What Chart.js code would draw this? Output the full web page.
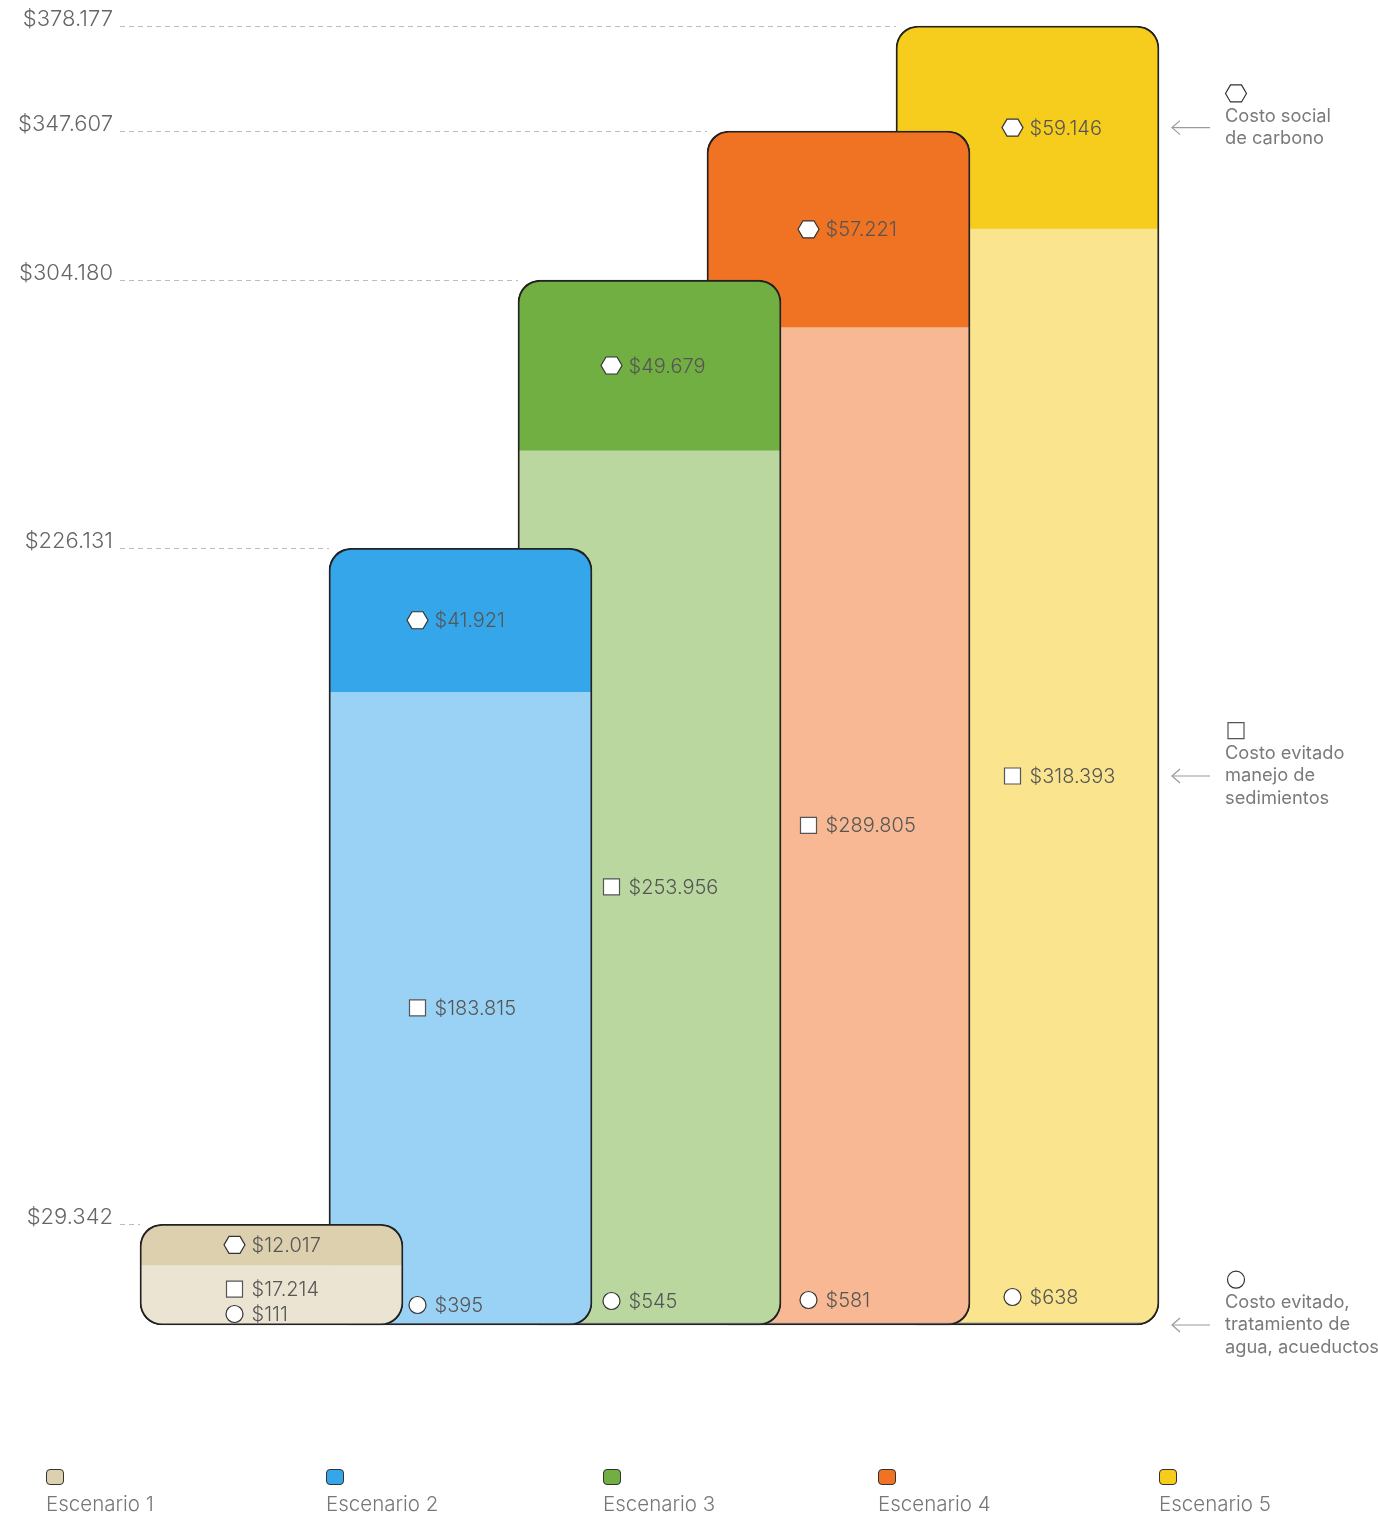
<!DOCTYPE html>
<html>
<head>
<meta charset="utf-8">
<script src="https://cdn.jsdelivr.net/npm/chart.js@4.4.1/dist/chart.umd.min.js"></script>
<style>
html,body{margin:0;padding:0;background:#fff;}
#wrap{position:relative;width:1378px;height:1518px;overflow:hidden;}
#c{position:absolute;left:0;top:0;}
.leg{position:absolute;top:1469px;font-family:Inter,"Noto Sans",sans-serif;font-weight:300;font-size:20.5px;color:#777;}
.sw{width:16px;height:14px;border:1px solid #333;border-radius:4px;}
.lt{margin-top:7px;line-height:24px;white-space:nowrap;}
</style>
</head>
<body>
<div id="wrap">
<canvas id="c" width="1378" height="1518"></canvas>
</div>
<script>
// ---- data ----
const scenarios = ['Escenario 1','Escenario 2','Escenario 3','Escenario 4','Escenario 5'];
const water    = [111, 395, 545, 581, 638];
const sediment = [17214, 183815, 253956, 289805, 318393];
const carbon   = [12017, 41921, 49679, 57221, 59146];
const tickLabels = ['$29.342','$226.131','$304.180','$347.607','$378.177'];
const noteCarbon = ['Costo social','de carbono'];
const noteSediment = ['Costo evitado','manejo de','sedimientos'];
const noteWater = ['Costo evitado,','tratamiento de','agua, acueductos'];

// ---- style ----
const darkColors  = ['#DDD0AE','#36A6EA','#72AF42','#F07324','#F6CC1D'];
const lightColors = ['#ECE4D2','#9AD2F5','#BAD7A0','#F8B893','#FAE48E'];
const waterColor = '#9A9B9D';
const labelDx = [-37, -43, -38, -30, -15];   // icon offset from bar centre
const sedShift = [-6, 0, 0, 0, 0];
const waterLift = [11, 20, 24, 25, 28];
const legendX = [46, 326, 603, 878, 1159];
const FONT = 'Inter, "Noto Sans", sans-serif';

const totals = scenarios.map((_, i) => water[i] + sediment[i] + carbon[i]);
const tickValues = totals.slice().sort((a, b) => a - b);

function fmt(v){ return '$' + String(v).replace(/\B(?=(\d{3})+(?!\d))/g, '.'); }

const datasets = [];
scenarios.forEach((name, i) => {
  const only = v => scenarios.map((_, j) => j === i ? v : null);
  const common = {stack:'s', grouped:false, barThickness:263, borderWidth:0, kind:'seg', scen:i, clip:false};
  datasets.push(Object.assign({label:name+' agua', data:only(water[i]), backgroundColor:waterColor, order:10*i+1}, common));
  datasets.push(Object.assign({label:name+' sedimentos', data:only(sediment[i]), backgroundColor:lightColors[i], order:10*i+2}, common));
  datasets.push(Object.assign({label:name+' carbono', data:only(carbon[i]), backgroundColor:darkColors[i], order:10*i+3}, common));
  datasets.push({label:name, data:only(totals[i]), backgroundColor:'rgba(0,0,0,0)', borderColor:'#222', borderWidth:1.2,
    borderRadius:22, borderSkipped:false, stack:'o', grouped:false, barThickness:263, order:10*i, kind:'outline', scen:i, clip:false});
});

function rr(ctx, x, y, w, h, r){
  r = Math.min(r, w/2, h/2);
  ctx.beginPath();
  ctx.moveTo(x + r, y);
  ctx.lineTo(x + w - r, y);
  ctx.arcTo(x + w, y, x + w, y + r, r);
  ctx.lineTo(x + w, y + h - r);
  ctx.arcTo(x + w, y + h, x + w - r, y + h, r);
  ctx.lineTo(x + r, y + h);
  ctx.arcTo(x, y + h, x, y + h - r, r);
  ctx.lineTo(x, y + r);
  ctx.arcTo(x, y, x + r, y, r);
  ctx.closePath();
}
function hexIcon(ctx, cx, cy){
  ctx.beginPath();
  ctx.moveTo(cx-10.5, cy); ctx.lineTo(cx-5.5, cy-8.5); ctx.lineTo(cx+5.5, cy-8.5);
  ctx.lineTo(cx+10.5, cy); ctx.lineTo(cx+5.5, cy+8.5); ctx.lineTo(cx-5.5, cy+8.5); ctx.closePath();
  ctx.fillStyle = '#fff'; ctx.fill(); ctx.strokeStyle = '#333'; ctx.lineWidth = 1.2; ctx.stroke();
}
function sqIcon(ctx, cx, cy){
  ctx.beginPath(); ctx.rect(cx-8, cy-8, 16, 16);
  ctx.fillStyle = '#fff'; ctx.fill(); ctx.strokeStyle = '#555'; ctx.lineWidth = 1.2; ctx.stroke();
}
function circIcon(ctx, cx, cy){
  ctx.beginPath(); ctx.arc(cx, cy, 8.5, 0, Math.PI*2);
  ctx.fillStyle = '#fff'; ctx.fill(); ctx.strokeStyle = '#333'; ctx.lineWidth = 1.2; ctx.stroke();
}
function elProps(chart, dsIndex, i){
  return chart.getDatasetMeta(dsIndex).data[i].getProps(['x','y','base','width'], true);
}

const custom = {
  id:'custom',
  beforeDatasetsDraw(chart){
    const ctx = chart.ctx;
    ctx.save();
    ctx.strokeStyle = '#bdbdbd'; ctx.lineWidth = 1; ctx.setLineDash([5,4]);
    scenarios.forEach((_, i) => {
      const p = elProps(chart, i*4+3, i);
      const y = Math.round(p.y) + 0.5;
      ctx.beginPath(); ctx.moveTo(120, y); ctx.lineTo(p.x - p.width/2, y); ctx.stroke();
    });
    ctx.restore();
  },
  beforeDatasetDraw(chart, args){
    const ds = chart.data.datasets[args.index];
    if (ds.kind !== 'seg') return;
    const p = elProps(chart, ds.scen*4+3, ds.scen);
    const ctx = chart.ctx;
    ctx.save();
    rr(ctx, p.x - p.width/2, p.y, p.width, p.base - p.y, 22);
    ctx.clip();
  },
  afterDatasetDraw(chart, args){
    const ds = chart.data.datasets[args.index];
    if (ds.kind !== 'seg') return;
    chart.ctx.restore();
  },
  afterDatasetsDraw(chart){
    const ctx = chart.ctx;
    ctx.save();
    ctx.textBaseline = 'middle';
    ctx.textAlign = 'left';
    ctx.font = '300 20px ' + FONT;
    let arrowC = 0, arrowS = 0, arrowW = 0;
    scenarios.forEach((_, i) => {
      const c = elProps(chart, i*4+2, i);
      const s = elProps(chart, i*4+1, i);
      const w = elProps(chart, i*4, i);
      const ix = c.x + labelDx[i];
      const yc = (c.y + c.base)/2;
      const ys = (s.y + s.base)/2 + sedShift[i];
      const yw = w.base - waterLift[i];
      hexIcon(ctx, ix, yc);
      sqIcon(ctx, ix, ys);
      circIcon(ctx, ix, yw);
      ctx.fillStyle = '#555';
      ctx.fillText(fmt(carbon[i]), ix + 17, yc + 1);
      ctx.fillText(fmt(sediment[i]), ix + 17, ys + 1);
      ctx.fillText(fmt(water[i]), ix + 17, yw + 1);
      if (i === scenarios.length - 1){ arrowC = yc; arrowS = ys; arrowW = w.base; }
    });
    // right-side notes
    const notes = [[noteCarbon, arrowC, hexIcon], [noteSediment, arrowS, sqIcon], [noteWater, arrowW, circIcon]];
    ctx.font = '400 18.3px ' + FONT;
    notes.forEach(([lines, ay, icon]) => {
      ctx.strokeStyle = '#9a9a9a'; ctx.lineWidth = 1.2;
      ctx.beginPath(); ctx.moveTo(1210, ay); ctx.lineTo(1172, ay); ctx.stroke();
      ctx.beginPath(); ctx.moveTo(1180, ay-7); ctx.lineTo(1172, ay); ctx.lineTo(1180, ay+7); ctx.stroke();
      const lh = 22.3;
      const first = ay - (lines.length - 1) * lh / 2;
      icon(ctx, 1236, first - 23);
      ctx.fillStyle = '#7a7a7a';
      lines.forEach((t, k) => ctx.fillText(t, 1225, first + k*lh));
    });
    ctx.restore();
  }
};

new Chart(document.getElementById('c'), {
  type:'bar',
  data:{labels:scenarios, datasets},
  options:{
    responsive:false, animation:false, devicePixelRatio:1,
    layout:{padding:{left:0, right:256, top:26, bottom:193}},
    plugins:{legend:{display:false}, tooltip:{enabled:false}},
    scales:{
      x:{stacked:true, display:false, offset:true},
      y:{
        stacked:true, min:0, max:Math.max(...totals), position:'left',
        grid:{display:false, drawTicks:false}, border:{display:false},
        afterBuildTicks:(s) => { s.ticks = tickValues.map(v => ({value:v})); },
        afterFit:(s) => { s.width = 177; s.paddingTop = 12; s.paddingBottom = 12; },
        ticks:{autoSkip:false, padding:64, labelOffset:-7, color:'#666',
          font:{family:FONT, size:22, weight:300},
          callback:(v, idx) => tickLabels[idx]}
      }
    }
  },
  plugins:[custom]
});

// legend
const wrap = document.getElementById('wrap');
scenarios.forEach((name, i) => {
  const d = document.createElement('div');
  d.className = 'leg';
  d.style.left = legendX[i] + 'px';
  d.innerHTML = '<div class="sw" style="background:' + darkColors[i] + '"></div><div class="lt">' + name + '</div>';
  wrap.appendChild(d);
});
</script>
</body>
</html>
